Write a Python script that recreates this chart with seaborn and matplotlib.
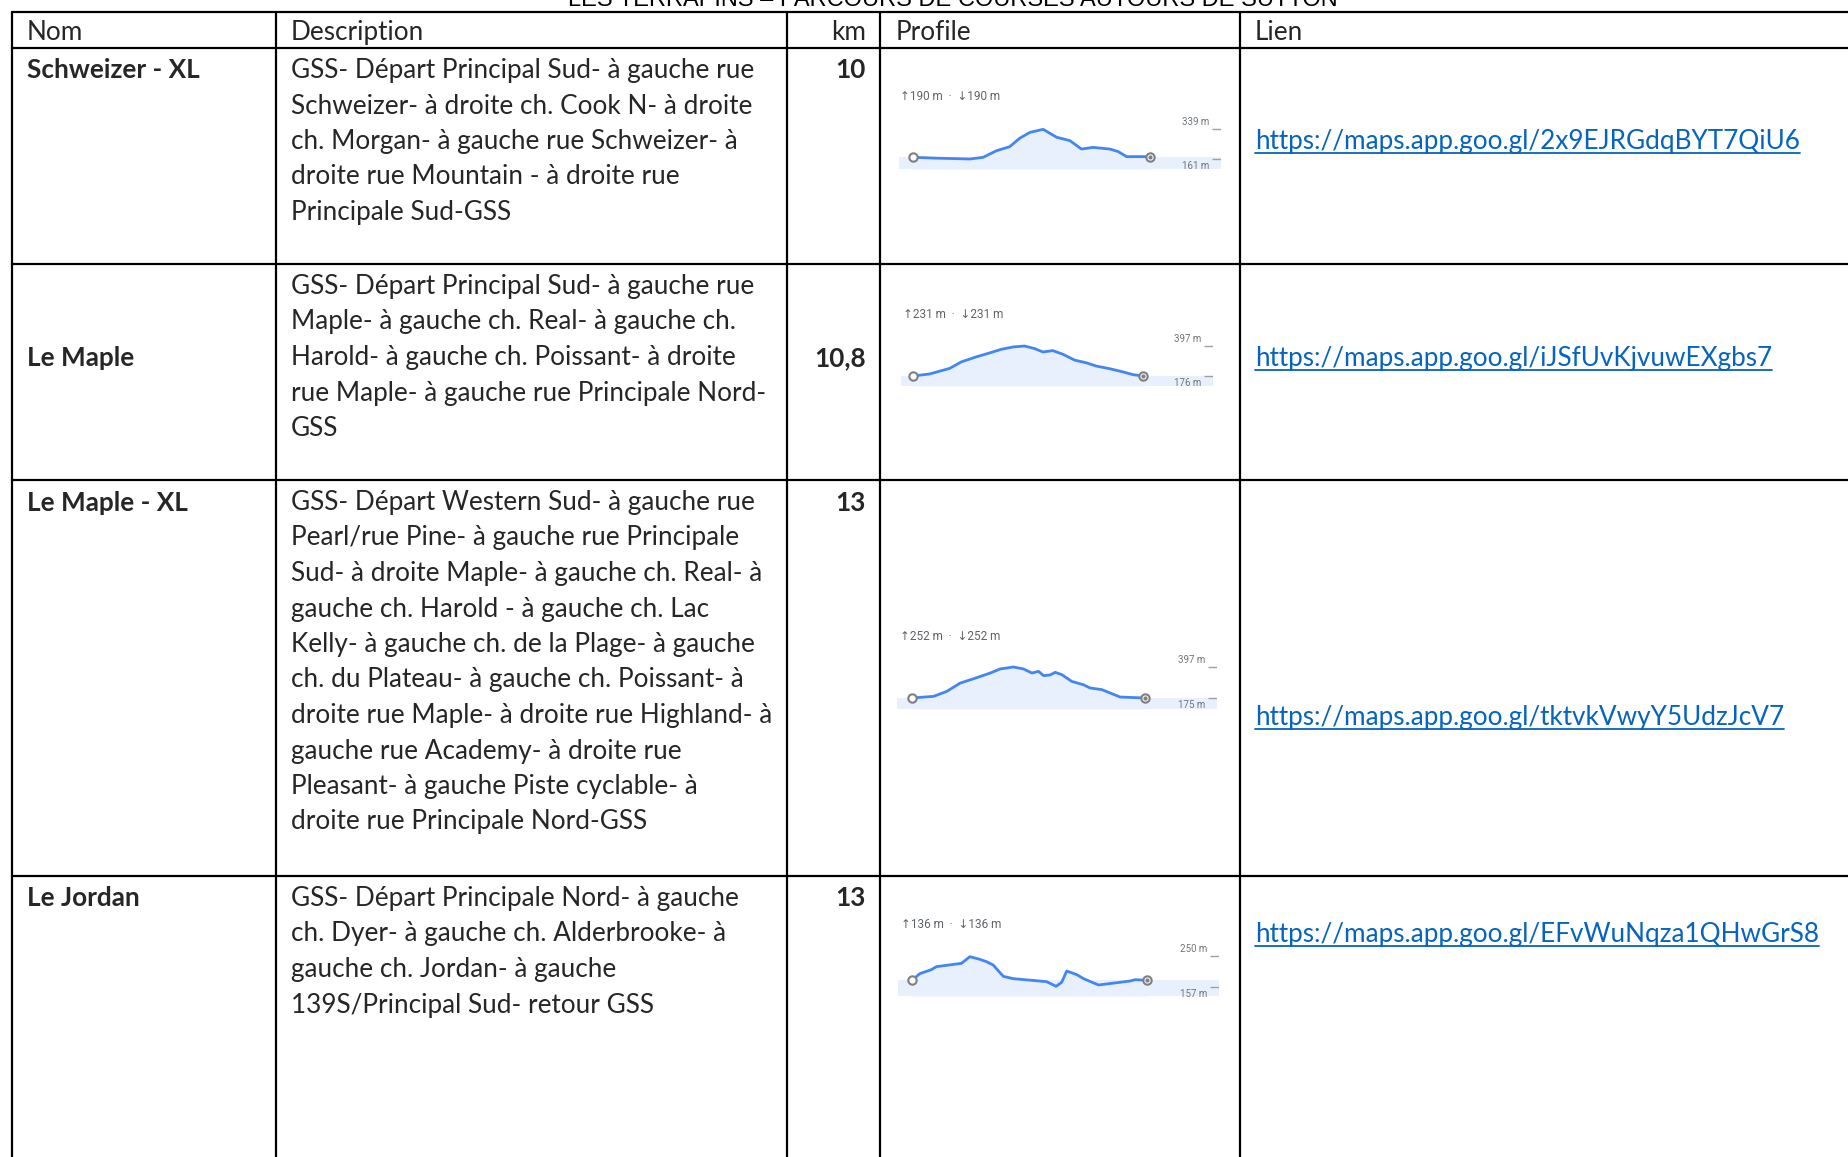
import matplotlib
matplotlib.use('Agg')

import numpy as np
import pandas as pd
import seaborn as sns
import matplotlib.pyplot as plt
from matplotlib.lines import Line2D

# --- data ---
title = "LES TERRAPINS – PARCOURS DE COURSES AUTOURS DE SUTTON"
headers = ["Nom", "Description", "km", "Profile", "Lien"]
names = ["Schweizer - XL", "Le Maple", "Le Maple - XL", "Le Jordan"]
distances = ["10", "10,8", "13", "13"]
descriptions = [
    ["GSS- Départ Principal Sud- à gauche rue",
     "Schweizer- à droite ch. Cook N- à droite",
     "ch. Morgan- à gauche rue Schweizer- à",
     "droite rue Mountain - à droite rue",
     "Principale Sud-GSS"],
    ["GSS- Départ Principal Sud- à gauche rue",
     "Maple- à gauche ch. Real- à gauche ch.",
     "Harold- à gauche ch. Poissant- à droite",
     "rue Maple- à gauche rue Principale Nord-",
     "GSS"],
    ["GSS- Départ Western Sud- à gauche rue",
     "Pearl/rue Pine- à gauche rue Principale",
     "Sud- à droite Maple- à gauche ch. Real- à",
     "gauche ch. Harold - à gauche ch. Lac",
     "Kelly- à gauche ch. de la Plage- à gauche",
     "ch. du Plateau- à gauche ch. Poissant- à",
     "droite rue Maple- à droite rue Highland- à",
     "gauche rue Academy- à droite rue",
     "Pleasant- à gauche Piste cyclable- à",
     "droite rue Principale Nord-GSS"],
    ["GSS- Départ Principale Nord- à gauche",
     "ch. Dyer- à gauche ch. Alderbrooke- à",
     "gauche ch. Jordan- à gauche",
     "139S/Principal Sud- retour GSS"],
]
links = [
    "https://maps.app.goo.gl/2x9EJRGdqBYT7QiU6",
    "https://maps.app.goo.gl/iJSfUvKjvuwEXgbs7",
    "https://maps.app.goo.gl/tktvkVwyY5UdzJcV7",
    "https://maps.app.goo.gl/EFvWuNqza1QHwGrS8",
]
gains = [190, 231, 252, 136]
elev_max = [339, 397, 397, 250]
elev_min = [161, 176, 175, 157]

km_1 = [0, 1.0, 2.4, 2.96, 3.52, 4.08, 4.5, 4.93, 5.49, 6.06, 6.62, 7.11, 7.6, 8.31, 8.66, 9.01, 10]
elev_1 = [171, 166, 161, 171, 210, 234, 284, 319, 337, 290, 270, 220, 230, 220, 205, 175, 175]
km_2 = [0, 0.78, 1.72, 2.27, 2.97, 3.6, 4.15, 4.7, 5.24, 5.71, 6.1, 6.57, 7.04, 7.59, 8.14, 8.61, 9.23, 9.86, 10.33, 10.8]
elev_2 = [176, 191, 232, 280, 317, 346, 373, 390, 397, 378, 353, 363, 336, 293, 273, 249, 230, 206, 186, 176]
km_3 = [0, 1.21, 1.95, 2.69, 3.44, 4.37, 4.92, 5.66, 6.22, 6.69, 7.06, 7.34, 7.71, 7.99, 8.36, 8.91, 9.56, 9.93, 10.59, 11.61, 13]
elev_3 = [175, 187, 223, 282, 313, 354, 383, 397, 383, 354, 366, 335, 340, 359, 342, 294, 270, 247, 235, 182, 175]
km_4 = [0, 0.43, 1.07, 1.35, 2.74, 3.2, 3.75, 4.12, 4.49, 5.05, 5.6, 7.45, 7.97, 8.28, 8.56, 9.12, 9.49, 10.32, 12.07, 12.35, 13]
elev_4 = [177, 197, 209, 218, 228, 248, 240, 233, 223, 189, 182, 173, 159, 171, 205, 194, 182, 163, 175, 179, 177]
profiles = [(km_1, elev_1), (km_2, elev_2), (km_3, elev_3), (km_4, elev_4)]

# --- layout (pixels of the 1848x1157 canvas) ---
W, H = 1848, 1157
col_x = [12, 276, 787, 880, 1240]
row_y = [12, 48, 264, 480, 876]
dy_txt = 2.5
header_y = 30 + dy_txt
name_y = [v + dy_txt for v in [68, 356, 500, 896]]
desc_y0 = [v + dy_txt for v in [68, 284, 500, 896]]
line_gap = 35.5
link_y = [v + dy_txt for v in [139, 356, 715, 932]]
# band_l, band_r, band_bot, start_px, end_px, y_px(min), y_px(max), gain_x, gain_y
prof_box = [
    (899, 1221, 169, 913, 1150, 159, 129, 900, 97),
    (901, 1213, 386, 913, 1143, 376, 346, 903, 315),
    (897, 1217, 709, 912, 1145, 698, 667, 900, 636),
    (898, 1219, 996, 912, 1147, 987, 956, 901, 925),
]


def fx(x):
    return x / W


def fy(y):
    return 1 - y / H


sns.set_theme(style="white")
plt.rcParams['font.family'] = ['Lato', 'DejaVu Sans']

fig = plt.figure(figsize=(18.48, 11.57), dpi=100)
fs = 18.8

# title (cut off at the top edge like the original)
fig.text(fx(953), fy(6), title, ha='center', va='baseline', fontsize=17,
         family=['Liberation Sans Narrow', 'Liberation Sans', 'DejaVu Sans'], color='black')

# grid lines
for y in row_y:
    fig.add_artist(Line2D([fx(col_x[0]), 1], [fy(y), fy(y)], color='black', lw=1.6,
                          transform=fig.transFigure))
for x in col_x:
    fig.add_artist(Line2D([fx(x), fx(x)], [fy(row_y[0]), 0], color='black', lw=1.6,
                          transform=fig.transFigure))

# header
hx = [27, 291, 866, 896, 1255]
for i, h in enumerate(headers):
    fig.text(fx(hx[i]), fy(header_y), h, ha='right' if h == 'km' else 'left',
             va='center', fontsize=fs)

link_texts = []
for r in range(4):
    fig.text(fx(27), fy(name_y[r]), names[r], ha='left', va='center', fontsize=fs, weight='bold')
    fig.text(fx(866), fy(name_y[r]), distances[r], ha='right', va='center', fontsize=fs, weight='bold')
    for j, line in enumerate(descriptions[r]):
        fig.text(fx(291), fy(desc_y0[r] + j * line_gap), line, ha='left', va='center', fontsize=fs)
    t = fig.text(fx(1255), fy(link_y[r]), links[r], ha='left', va='center', fontsize=fs,
                 color='#0563C1')
    link_texts.append(t)

# elevation profiles
blue = '#4285F4'
fill = '#E8F0FE'
for r, (km, elev) in enumerate(profiles):
    bl, br, bb, x0, x1, ymin_px, ymax_px, gx, gy = prof_box[r]
    top_px = ymax_px - 22
    ax = fig.add_axes([fx(bl), fy(bb), (br - bl) / W, (bb - top_px) / H])
    ppk = (x1 - x0) / km[-1]
    ppm = (ymin_px - ymax_px) / (elev_max[r] - elev_min[r])
    xlim = ((bl - x0) / ppk, (br - x0) / ppk)
    ylo = elev_min[r] - (bb - ymin_px) / ppm
    yhi = elev_min[r] + (ymin_px - top_px) / ppm
    ax.set_xlim(*xlim)
    ax.set_ylim(ylo, yhi)
    ax.fill_between(xlim, ylo, elev[0], color=fill, lw=0)
    ax.fill_between(km, elev, ylo, color=fill, lw=0)
    df = pd.DataFrame({'km': km, 'elev': elev})
    sns.lineplot(data=df, x='km', y='elev', ax=ax, color=blue, lw=2.0)
    ax.plot(km[0], elev[0], 'o', ms=6, mfc='white', mec='#7f7f7f', mew=1.5, zorder=5)
    ax.plot(km[-1], elev[-1], 'o', ms=6, mfc='white', mec='#7f7f7f', mew=1.5, zorder=5)
    ax.plot(km[-1], elev[-1], 'o', ms=2, color='#7f7f7f', zorder=6)
    ax.hlines([elev_max[r], elev_min[r]], 0.972, 1.0, transform=ax.get_yaxis_transform(),
              color='#9AA0A6', lw=1)
    for e, dy, va in [(elev_max[r], 1.5, 'bottom'), (elev_min[r], -1.5, 'top')]:
        ax.annotate(f"{e} m", xy=(1.0, e), xycoords=ax.get_yaxis_transform(),
                    xytext=(-8.3, dy), textcoords='offset points', ha='right', va=va,
                    fontsize=7, color='#70757A', family=['Roboto', 'DejaVu Sans'])
    ax.set_axis_off()
    fig.text(fx(gx), fy(gy), f"\u2191{gains[r]} m  \u00b7  \u2193{gains[r]} m", ha='left', va='center',
             fontsize=8.5, color='#5F6368', family=['Roboto', 'DejaVu Sans'])

# underline the links
fig.canvas.draw()
renderer = fig.canvas.get_renderer()
inv = fig.transFigure.inverted()
for t in link_texts:
    bb = t.get_window_extent(renderer)
    (ax0, ay0), (ax1, ay1) = inv.transform([(bb.x0, bb.y0), (bb.x1, bb.y1)])
    uy = ay0 + 1.5 / H
    fig.add_artist(Line2D([ax0, ax1], [uy, uy], color='#0563C1', lw=1.3, transform=fig.transFigure))

fig.savefig('out.png', dpi=100, facecolor='white')
